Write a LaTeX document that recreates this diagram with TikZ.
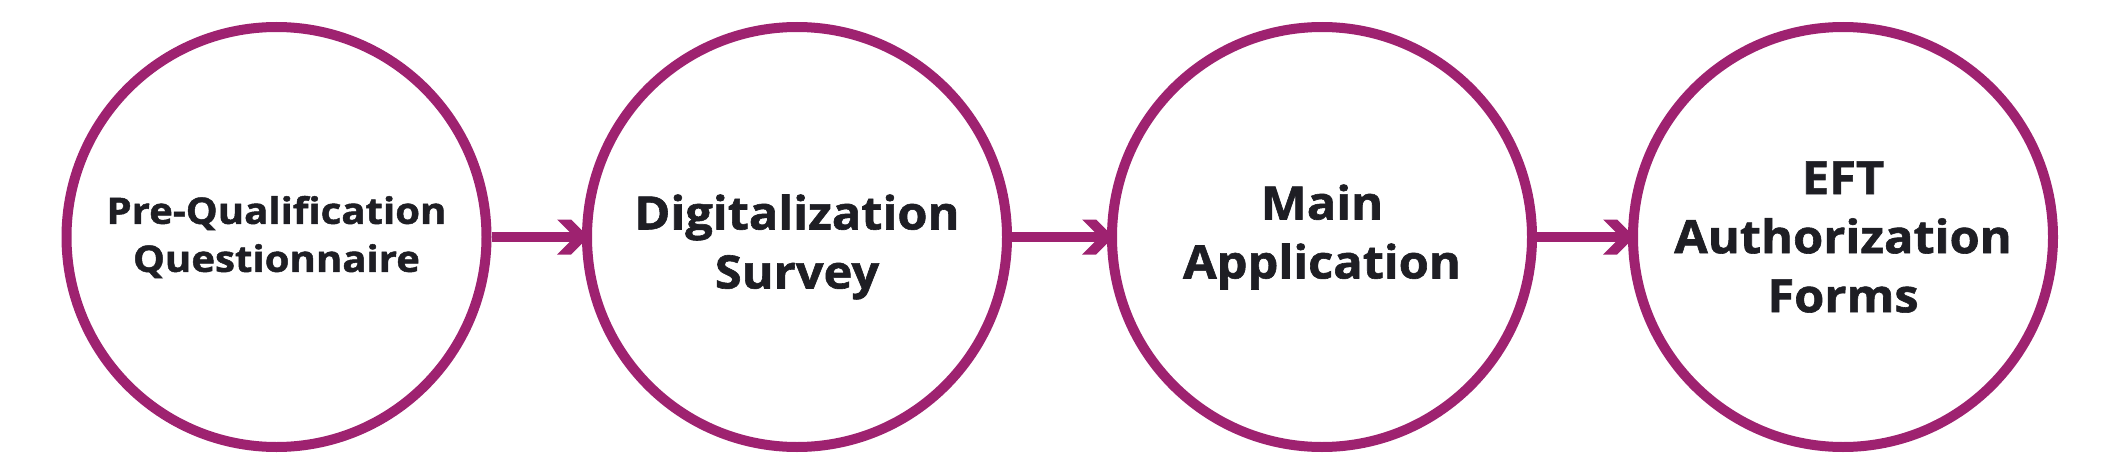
\documentclass[tikz,border=0pt]{standalone}
\usepackage{fontspec}
\setmainfont{Open Sans}
\newfontfamily\smallface{Open Sans}[BoldFeatures={FakeBold=1.3,FakeStretch=1.1}]
\newfontfamily\bigface{Open Sans}[BoldFeatures={FakeBold=1.3,FakeStretch=1.06}]
\usetikzlibrary{calc}
\definecolor{purp}{HTML}{9E2270}
\definecolor{ink}{HTML}{1E1E24}
\tikzset{
  stage/.style={circle, draw=purp, line width=10pt, minimum size=420pt, inner sep=0pt},
  label text/.style={align=center, text=ink, inner sep=0pt},
  smalltxt/.style={label text, font=\smallface\bfseries\fontsize{36.5}{48}\selectfont},
  bigtxt/.style={label text, font=\bigface\bfseries\fontsize{46}{59}\selectfont},
  conn/.style={draw=purp, line width=10pt},
  chev/.style={fill=purp}
}
\newcommand{\chevronat}[1]{%
  \fill[chev] ($(#1)+(-25,-17.5)$) -- ($(#1)+(-11,-17.5)$) -- ($(#1)+(6.5,0)$)
    -- ($(#1)+(-11,17.5)$) -- ($(#1)+(-25,17.5)$) -- ($(#1)+(-7.5,0)$) -- cycle;}
\begin{document}
\begin{tikzpicture}[x=1pt,y=-1pt]
\useasboundingbox (0,0) rectangle (2118,471);
\node[stage] (a) at (276.5,237) {};
\node[stage] (b) at (797,237) {};
\node[stage] (c) at (1322,237) {};
\node[stage] (d) at (1843,237) {};
\node[smalltxt] (at) at (a.center) {Pre-Qualification\\Questionnaire};
\node[bigtxt] (bt) at ($(b.center)+(0,10)$) {Digitalization\\Survey};
\node[bigtxt] (ct) at (c.center) {Main\\Application};
\node[bigtxt] (dt) at (d.center) {EFT\\Authorization\\Forms};
\draw[conn] (a.east) -- (b.west);
\draw[conn] (b.east) -- (c.west);
\draw[conn] (c.east) -- (d.west);
\chevronat{b.west}
\chevronat{c.west}
\chevronat{d.west}
\end{tikzpicture}
\end{document}
